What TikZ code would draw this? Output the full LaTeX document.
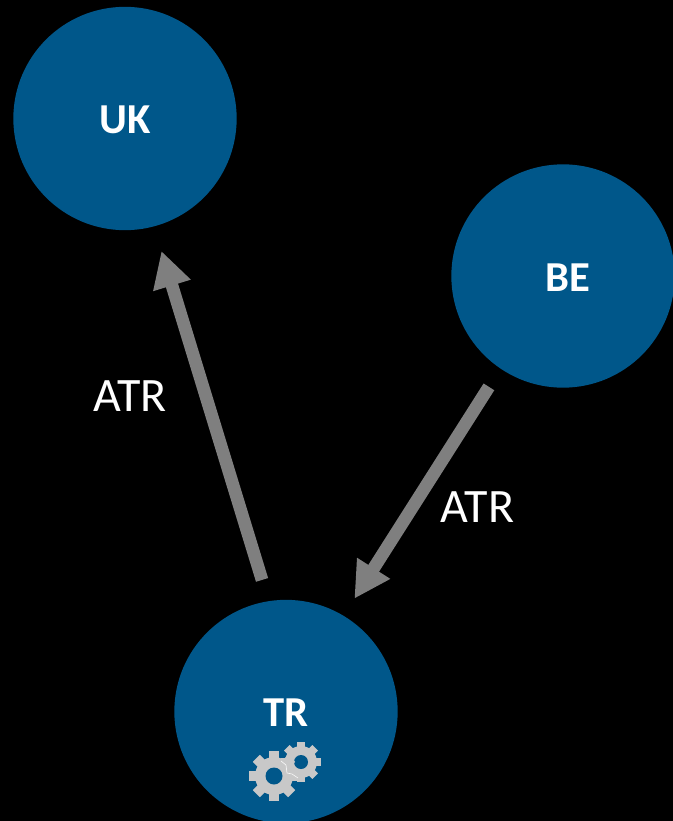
\documentclass[tikz,border=0pt]{standalone}
\usepackage{fontspec}
\setmainfont{Carlito}
\usetikzlibrary{arrows.meta}
\definecolor{countryblue}{HTML}{00578A}
\definecolor{linkgrey}{HTML}{7F7F7F}
\definecolor{gearsilver}{HTML}{C8C8C8}
\newcommand{\gearat}[5]{%
  \foreach \a in {0,45,...,315} {
    \fill[gearsilver, rotate around={\a:(#1,#2)}] (#1-#5,#2) rectangle (#1+#5,#2-#3);
  }
  \fill[gearsilver] (#1,#2) circle (#4);
}
\begin{document}
\begin{tikzpicture}[
    x=0.75pt, y=-0.75pt,
    country/.style={circle, fill=countryblue, inner sep=0pt, minimum size=167.5pt},
    countryname/.style={text=white, font=\bfseries\fontsize{32}{32}\selectfont, inner sep=0pt},
    linkname/.style={text=white, font=\fontsize{36}{36}\selectfont, inner sep=0pt},
    link/.style={draw=linkgrey, line width=9.5pt, -{Triangle[length=27pt, width=27.5pt]}},
]
  \clip (0,0) rectangle (673,821);
  \fill[black] (0,0) rectangle (673,821);

  \node [country]     (uk)    at (125,118.5) {};
  \node [country]     (be)    at (563,276) {};
  \node [country]     (tr)    at (286,711.5) {};
  \node [countryname] (uktxt) at (125,120) {UK};
  \node [countryname] (betxt) at (568,278) {BE};
  \node [countryname] (trtxt) at (286,713) {TR};

  \draw [link, shorten <=22pt*0.75, shorten >=25.5pt*0.75] (tr.99.2) -- (uk.-75);
  \draw [link, shorten <=21.4pt*0.75, shorten >=20pt*0.75] (be.-124.3) -- (tr.59.4);

  \node [linkname] (atra) at (130,396) {ATR};
  \node [linkname] (atrb) at (477.5,507) {ATR};

  % gears
  \gearat{301}{762}{20}{16}{4}
  \fill[countryblue] (301,762) circle (7);
  \gearat{274}{776}{25}{19}{5}
  \fill[countryblue] (274,776) circle (8.5);
  \draw[white!85!gearsilver, line width=0.5pt] (281,761) -- (286,765) -- (287,773) -- (292,774) -- (298,778);
\end{tikzpicture}
\end{document}
